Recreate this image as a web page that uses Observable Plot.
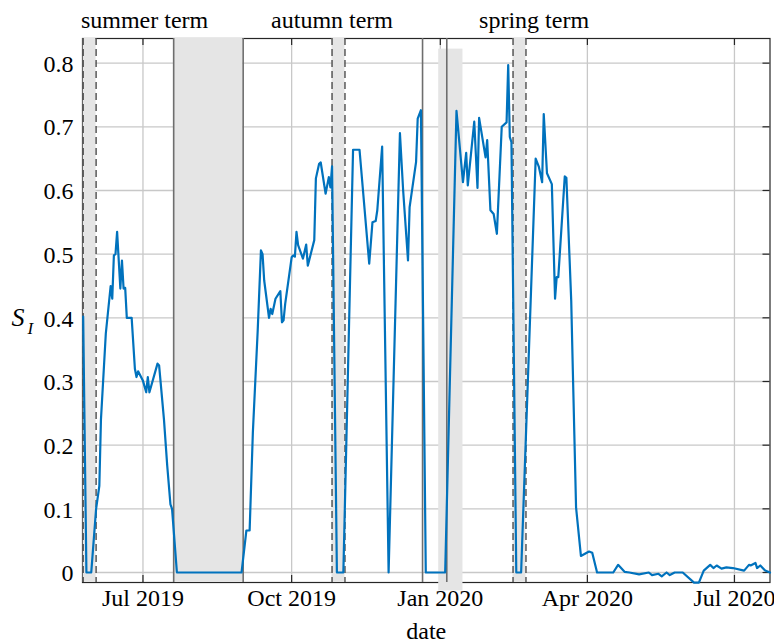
<!DOCTYPE html>
<html><head><meta charset="utf-8">
<script src="https://cdn.jsdelivr.net/npm/d3@7"></script>
<script src="https://cdn.jsdelivr.net/npm/@observablehq/plot@0.6"></script>
<style>html,body{margin:0;padding:0;background:#fff;} #chart{width:774px;height:642px;}</style>
</head><body><div id="chart"></div>
<script>
const dates = ["2019-05-25","2019-05-27","2019-05-30","2019-06-02","2019-06-04","2019-06-05","2019-06-08","2019-06-11","2019-06-12","2019-06-13","2019-06-14","2019-06-15","2019-06-17","2019-06-18","2019-06-19","2019-06-20","2019-06-21","2019-06-24","2019-06-26","2019-06-27","2019-06-28","2019-07-01","2019-07-03","2019-07-04","2019-07-05","2019-07-10","2019-07-11","2019-07-14","2019-07-16","2019-07-18","2019-07-19","2019-07-22","2019-08-31","2019-09-03","2019-09-05","2019-09-07","2019-09-10","2019-09-12","2019-09-13","2019-09-14","2019-09-17","2019-09-18","2019-09-19","2019-09-21","2019-09-24","2019-09-25","2019-09-26","2019-09-27","2019-10-01","2019-10-02","2019-10-03","2019-10-04","2019-10-05","2019-10-08","2019-10-10","2019-10-11","2019-10-15","2019-10-16","2019-10-18","2019-10-19","2019-10-22","2019-10-24","2019-10-25","2019-10-26","2019-10-29","2019-11-02","2019-11-08","2019-11-12","2019-11-18","2019-11-20","2019-11-22","2019-11-23","2019-11-26","2019-11-30","2019-12-07","2019-12-09","2019-12-12","2019-12-13","2019-12-17","2019-12-18","2019-12-20","2019-12-23","2020-01-04","2020-01-11","2020-01-15","2020-01-17","2020-01-18","2020-01-22","2020-01-24","2020-01-25","2020-01-29","2020-01-30","2020-02-01","2020-02-03","2020-02-05","2020-02-08","2020-02-11","2020-02-12","2020-02-13","2020-02-14","2020-02-17","2020-02-20","2020-02-29","2020-03-02","2020-03-04","2020-03-05","2020-03-07","2020-03-10","2020-03-12","2020-03-13","2020-03-14","2020-03-18","2020-03-19","2020-03-22","2020-03-23","2020-03-25","2020-03-28","2020-04-02","2020-04-04","2020-04-07","2020-04-17","2020-04-20","2020-04-24","2020-04-27","2020-05-03","2020-05-09","2020-05-11","2020-05-15","2020-05-17","2020-05-20","2020-05-22","2020-05-25","2020-05-30","2020-06-06","2020-06-09","2020-06-12","2020-06-16","2020-06-18","2020-06-20","2020-06-23","2020-06-26","2020-06-30","2020-07-07","2020-07-10","2020-07-11","2020-07-14","2020-07-15","2020-07-17","2020-07-20","2020-07-23"];
const values = [0.402,0,0,0.10,0.136,0.24,0.375,0.45,0.43,0.498,0.50,0.535,0.446,0.49,0.446,0.447,0.40,0.40,0.32,0.307,0.316,0.301,0.283,0.307,0.283,0.328,0.325,0.24,0.168,0.107,0.10,0,0,0.066,0.066,0.22,0.38,0.506,0.50,0.459,0.40,0.414,0.406,0.43,0.442,0.393,0.396,0.422,0.495,0.498,0.496,0.535,0.514,0.493,0.515,0.482,0.522,0.619,0.642,0.644,0.595,0.621,0.605,0.638,0,0,0.664,0.664,0.485,0.55,0.552,0.569,0.669,0,0.69,0.60,0.49,0.574,0.645,0.713,0.726,0,0,0.725,0.613,0.659,0.608,0.708,0.604,0.714,0.652,0.679,0.569,0.563,0.532,0.70,0.707,0.797,0.684,0.676,0,0,0.65,0.637,0.613,0.72,0.627,0.61,0.43,0.464,0.464,0.622,0.62,0.427,0.317,0.102,0.026,0.033,0.031,0,0,0.012,0.001,0,-0.003,0,-0.004,-0.002,-0.006,0,-0.004,0,0,-0.016,-0.016,0.003,0.012,0.007,0.011,0.006,0.008,0.007,0.003,0.012,0.011,0.015,0.007,0.011,0.003,0];

const xDomain = ["2019-05-24T14:00Z","2020-07-23T00:00Z"];
const yDomain = [-0.0157, 0.8387];
const xTickDates = ["2019-07-01","2019-10-01","2020-01-01","2020-04-01","2020-07-01"];
const xTickLabels = ["Jul 2019","Oct 2019","Jan 2020","Apr 2020","Jul 2020"];
const yTicks = [0,0.1,0.2,0.3,0.4,0.5,0.6,0.7,0.8];
const yTickLabels = ["0","0.1","0.2","0.3","0.4","0.5","0.6","0.7","0.8"];

const halfTermStart = ["2019-05-25","2019-10-26","2020-02-15"];
const halfTermEnd = ["2019-06-02","2019-11-03","2020-02-23"];
const holidayStart = ["2019-07-20"];
const holidayEnd = ["2019-09-01"];
const termBoundaries = ["2019-07-20","2019-09-01","2019-12-21","2020-01-05"];
const breakStart = ["2019-12-31"];
const breakEnd = ["2020-01-15"];
const breakLow = [-0.029];
const breakHigh = [0.822];

const termNames = ["summer term","autumn term","spring term"];
const termLabelDates = ["2019-07-02","2019-10-26","2020-02-28"];

const W = 774, H = 642, ML = 82, MR = 4.5, MT = 38, MB = 60;
const innerW = W - ML - MR, innerH = H - MT - MB;
const TICK = 7;

const series = dates.map((d, i) => ({date: new Date(d), value: values[i]}));
const xTicks = xTickDates.map((d, i) => ({date: new Date(d), label: xTickLabels[i]}));
const yTickData = yTicks.map((v, i) => ({v, label: yTickLabels[i]}));
const halfTerms = halfTermStart.map((s, i) => ({x1: new Date(s), x2: new Date(halfTermEnd[i])}));
const halfTermEdges = halfTerms.flatMap(d => [d.x1, d.x2]);
const holidays = holidayStart.map((s, i) => ({x1: new Date(s), x2: new Date(holidayEnd[i])}));
const breaks = breakStart.map((s, i) => ({x1: new Date(s), x2: new Date(breakEnd[i]), y1: breakLow[i], y2: breakHigh[i]}));
const boundaries = termBoundaries.map(d => new Date(d));
const terms = termNames.map((n, i) => ({label: n, date: new Date(termLabelDates[i])}));

const ink = "#262626", grid = "#c8c8c8", shade = "#e5e5e5", txt = "#000";

const chart = Plot.plot({
  width: W, height: H,
  marginLeft: ML, marginRight: MR, marginTop: MT, marginBottom: MB,
  x: {type: "utc", domain: xDomain.map(d => new Date(d)), axis: null},
  y: {domain: yDomain, axis: null},
  style: {fontFamily: "'Liberation Serif', 'Times New Roman', serif", fontSize: "24px", background: "#fff", color: "#000"},
  marks: [
    Plot.ruleX(xTicks, {x: "date", stroke: grid, strokeWidth: 1.3}),
    Plot.ruleY(yTickData, {y: "v", stroke: grid, strokeWidth: 1.3}),
    Plot.ruleX(xTicks, {x: "date", stroke: ink, strokeWidth: 1.2, insetBottom: innerH - TICK}),
    Plot.ruleX(xTicks, {x: "date", stroke: ink, strokeWidth: 1.2, insetTop: innerH - TICK}),
    Plot.ruleY(yTickData, {y: "v", stroke: ink, strokeWidth: 1.2, insetRight: innerW - TICK}),
    Plot.ruleY(yTickData, {y: "v", stroke: ink, strokeWidth: 1.2, insetLeft: innerW - TICK}),
    Plot.frame({stroke: ink, strokeWidth: 1.2}),
    Plot.rect(holidays, {x1: "x1", x2: "x2", fill: shade}),
    Plot.rect(halfTerms, {x1: "x1", x2: "x2", fill: shade}),
    Plot.rect(breaks, {x1: "x1", x2: "x2", y1: "y1", y2: "y2", fill: shade}),
    Plot.ruleX(boundaries, {stroke: "#6e6e6e", strokeWidth: 1.6}),
    Plot.ruleX(halfTermEdges, {stroke: "#4d4d4d", strokeWidth: 1.4, strokeDasharray: "7,4"}),
    Plot.line(series, {x: "date", y: "value", stroke: "#0072BD", strokeWidth: 2.2, strokeLinejoin: "round"}),
    Plot.text(xTicks, {x: "date", text: "label", frameAnchor: "bottom", dy: 23, lineAnchor: "bottom", fill: txt}),
    Plot.text(yTickData, {y: "v", text: "label", frameAnchor: "left", dx: -9, dy: 1, textAnchor: "end", lineAnchor: "middle", fill: txt}),
    Plot.text(terms, {x: "date", text: "label", frameAnchor: "top", dy: -11, lineAnchor: "bottom", fill: txt}),
    Plot.text(["date"], {text: d => d, frameAnchor: "bottom", dy: 56, lineAnchor: "bottom", fill: txt}),
    Plot.text(["S"], {text: d => d, frameAnchor: "left", dx: -71, dy: 15, textAnchor: "start", lineAnchor: "bottom", fontStyle: "italic", fontSize: 26, fill: txt}),
    Plot.text(["I"], {text: d => d, frameAnchor: "left", dx: -55, dy: 23, textAnchor: "start", lineAnchor: "bottom", fontStyle: "italic", fontSize: 17, fill: txt})
  ]
});
document.getElementById("chart").appendChild(chart);
</script>
</body></html>
